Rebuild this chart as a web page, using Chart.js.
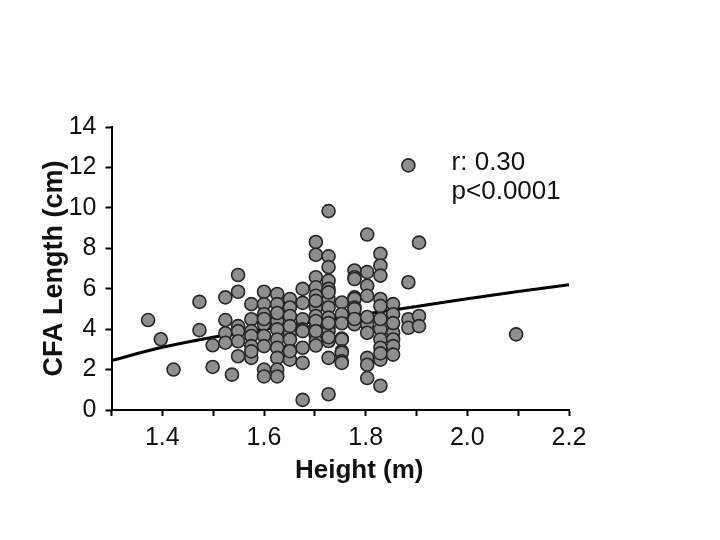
<!DOCTYPE html>
<html><head><meta charset="utf-8">
<script src="https://cdn.jsdelivr.net/npm/chart.js@4.4.1/dist/chart.umd.min.js"></script>
<style>html,body{margin:0;padding:0;background:#fff;}</style>
</head><body>
<canvas id="c" width="720" height="540"></canvas>
<script>
const heights = [
1.372,1.397,1.422,1.473,1.473,1.499,1.499,
1.524,1.524,1.524,1.524,1.537,
1.549,1.549,1.549,1.549,1.549,1.549,
1.575,1.575,1.575,1.575,1.575,1.575,1.575,
1.600,1.600,1.600,1.600,1.600,1.600,1.600,1.600,1.600,
1.626,1.626,1.626,1.626,1.626,1.626,1.626,1.626,1.626,1.626,
1.651,1.651,1.651,1.651,1.651,1.651,1.651,1.651,1.651,
1.676,1.676,1.676,1.676,1.676,1.676,1.676,1.676,
1.702,1.702,1.702,1.702,1.702,1.702,1.702,1.702,1.702,1.702,1.702,1.702,1.702,1.702,
1.727,1.727,1.727,1.727,1.727,1.727,1.727,1.727,1.727,1.727,1.727,1.727,1.727,1.727,1.727,1.727,
1.753,1.753,1.753,1.753,1.753,1.753,1.753,1.753,1.753,
1.778,1.778,1.778,1.778,1.778,1.778,1.778,1.778,1.778,
1.803,1.803,1.803,1.803,1.803,1.803,1.803,1.803,1.803,1.803,
1.829,1.829,1.829,1.829,1.829,1.829,1.829,1.829,1.829,1.829,1.829,1.829,
1.854,1.854,1.854,1.854,1.854,1.854,1.854,
1.884,1.884,1.884,1.884,
1.905,1.905,1.905,
2.096
];
const lengths = [
4.45,3.5,2.0,5.35,3.95,3.2,2.13,
5.57,4.45,3.8,3.33,1.75,
6.68,5.85,4.15,3.9,2.66,3.4,
5.24,4.49,3.9,3.66,3.16,2.58,2.9,
5.85,5.24,4.74,4.24,3.66,3.16,2.0,1.66,4.5,
5.74,5.24,4.4,3.99,3.49,3.08,2.58,2.0,1.66,4.8,
5.49,5.07,4.65,3.82,2.99,2.49,3.49,2.91,4.15,
5.99,4.49,3.99,3.9,3.08,2.33,0.5,5.3,
8.31,7.68,6.57,6.07,5.65,5.07,4.65,4.07,3.66,3.41,3.19,5.4,4.4,3.9,
9.84,7.6,7.07,6.4,5.99,5.49,5.07,4.57,4.07,3.9,3.41,2.58,0.78,5.82,4.3,3.6,
5.32,4.74,4.29,3.53,3.49,2.91,2.83,2.41,2.33,
6.9,6.57,6.48,5.57,5.49,5.07,4.99,4.24,4.5,
8.68,6.82,6.15,5.65,4.24,3.82,2.58,2.24,1.58,4.6,
7.73,7.15,6.65,5.49,5.15,3.99,3.49,3.08,2.49,1.2,4.5,2.8,
5.24,4.74,3.82,3.49,3.16,2.74,4.3,
12.1,6.32,4.49,4.07,
8.28,4.65,4.15,
3.74
];
const fitHeights = [1.3,1.4,1.5,1.6,1.7,1.8,1.9,2.0,2.1,2.2];
const fitLengths = [2.45,3.1,3.6,4.0,4.38,4.75,5.12,5.5,5.86,6.2];
const xTickValues = [1.3,1.4,1.5,1.6,1.7,1.8,1.9,2.0,2.1,2.2];
const xTickLabels = ['1.4','1.6','1.8','2.0','2.2'];
const yTickValues = [0,2,4,6,8,10,12,14];
const annotationLines = ['r: 0.30','p<0.0001'];
const xAxisTitle = 'Height (m)';
const yAxisTitle = 'CFA Length (cm)';

const FONT = '"Liberation Sans", Arial, sans-serif';

const annotationPlugin = {
  id: 'annot',
  afterDraw(chart) {
    const ctx = chart.ctx;
    const xs = chart.scales.x, ys = chart.scales.y;
    ctx.save();
    ctx.fillStyle = '#111';
    ctx.font = '26px ' + FONT;
    ctx.textBaseline = 'alphabetic';
    ctx.textAlign = 'left';
    const x0 = xs.getPixelForValue(1.969);
    ctx.fillText(annotationLines[0], x0, ys.getPixelForValue(11.85));
    ctx.fillText(annotationLines[1], x0, ys.getPixelForValue(10.45));
    // x-axis title (offset to the right as in the original figure)
    ctx.font = 'bold 26px ' + FONT;
    ctx.textAlign = 'center';
    ctx.fillText(xAxisTitle, (xs.left + xs.right) / 2 + 19, xs.top + 68);
    ctx.restore();
  }
};

new Chart(document.getElementById('c'), {
  data: {
    datasets: [
      {
        type: 'line',
        data: fitHeights.map((h, i) => ({x: h, y: fitLengths[i]})),
        borderColor: '#000',
        borderWidth: 3,
        pointRadius: 0,
        fill: false,
        cubicInterpolationMode: 'monotone',
        order: 2
      },
      {
        type: 'scatter',
        data: heights.map((h, i) => ({x: h, y: lengths[i]})),
        backgroundColor: '#8e8e8e',
        borderColor: '#262626',
        borderWidth: 1.6,
        pointRadius: 6.5,
        order: 1
      }
    ]
  },
  options: {
    responsive: false,
    animation: false,
    devicePixelRatio: 1,
    layout: { padding: { top: 127, right: 151, left: 0, bottom: 0 } },
    plugins: { legend: { display: false }, tooltip: { enabled: false } },
    scales: {
      x: {
        type: 'linear',
        min: 1.3, max: 2.2,
        afterBuildTicks: s => { s.ticks = xTickValues.map(v => ({value: v})); },
        afterFit: s => { s.height = 130; },
        ticks: {
          autoSkip: false, maxRotation: 0, padding: 7,
          color: '#111',
          font: { family: FONT, size: 25 },
          callback: v => { const t = Number(v).toFixed(1); return xTickLabels.includes(t) ? t : ''; }
        },
        grid: { drawOnChartArea: false, drawTicks: true, tickLength: 6, tickWidth: 2, tickColor: '#000' },
        border: { color: '#000', width: 2 },
        title: { display: false }
      },
      y: {
        type: 'linear',
        min: 0, max: 14,
        afterBuildTicks: s => { s.ticks = yTickValues.map(v => ({value: v})); },
        afterFit: s => { s.width = 111.5; },
        ticks: {
          autoSkip: false, padding: 9,
          color: '#111',
          font: { family: FONT, size: 25 },
          callback: v => String(v)
        },
        grid: { drawOnChartArea: false, drawTicks: true, tickLength: 6, tickWidth: 2, tickColor: '#000' },
        border: { color: '#000', width: 2 },
        title: { display: true, text: yAxisTitle, color: '#111', font: { family: FONT, size: 27, weight: 'bold' }, padding: { top: 38, bottom: 0 } }
      }
    }
  },
  plugins: [annotationPlugin]
});
</script>
</body></html>
